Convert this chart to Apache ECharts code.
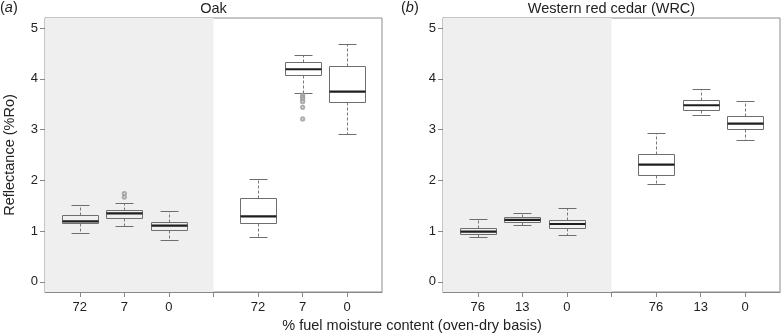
<!DOCTYPE html>
<html><head><meta charset="utf-8">
<script src="https://cdn.jsdelivr.net/npm/echarts@6/dist/echarts.min.js"></script>
<style>html,body{margin:0;padding:0;background:#fff}#c{width:782px;height:336px}</style>
</head><body><div id="c"></div>
<script>
// ---- data ----
const slots = [1, 2, 3, 5, 6, 7];
const oakTickLabels = ['72', '7', '0', '', '72', '7', '0'];
const wrcTickLabels = ['76', '13', '0', '', '76', '13', '0'];
const yTicks = [0, 1, 2, 3, 4, 5];

const oakMin    = [0.96, 1.10, 0.83, 0.89, 3.73, 2.91];
const oakQ1     = [1.16, 1.26, 1.03, 1.16, 4.08, 3.55];
const oakMedian = [1.19, 1.35, 1.11, 1.29, 4.19, 3.75];
const oakQ3     = [1.32, 1.42, 1.18, 1.66, 4.33, 4.25];
const oakMax    = [1.52, 1.55, 1.39, 2.03, 4.48, 4.68];
const oakOutliers = [[2, 1.74], [2, 1.67], [6, 3.68], [6, 3.64], [6, 3.60], [6, 3.55], [6, 3.44], [6, 3.21]];

const wrcMin    = [0.88, 1.12, 0.93, 1.93, 3.29, 2.79];
const wrcQ1     = [0.94, 1.18, 1.06, 2.10, 3.39, 3.01];
const wrcMedian = [0.99, 1.22, 1.14, 2.31, 3.48, 3.12];
const wrcQ3     = [1.06, 1.28, 1.21, 2.52, 3.59, 3.27];
const wrcMax    = [1.24, 1.35, 1.45, 2.93, 3.80, 3.56];

const shadeEnd = 4;

// ---- build ----
const boxData = (mn, q1, md, q3, mx) => slots.map((s, i) => [s, mn[i], q1[i], md[i], q3[i], mx[i]]);
const crisp = v => Math.round(v) + 0.5;
const GRAY = '#6e6e6e';

function renderBox(params, api) {
  const x = api.value(0);
  const cx = crisp(api.coord([x, 0])[0]);
  const yv = k => crisp(api.coord([x, api.value(k)])[1]);
  const yMin = yv(1), yQ1 = yv(2), yMed = api.coord([x, api.value(3)])[1], yQ3 = yv(4), yMax = yv(5);
  const hw = Math.round(api.size([0.82, 0])[0] / 2);
  const cap = Math.round(hw / 2);
  const dash = { stroke: '#777', lineWidth: 1, lineDash: [3, 2] };
  const solid = { stroke: GRAY, lineWidth: 1 };
  return {
    type: 'group',
    children: [
      { type: 'line', shape: { x1: cx, y1: yQ3, x2: cx, y2: yMax }, style: dash },
      { type: 'line', shape: { x1: cx, y1: yQ1, x2: cx, y2: yMin }, style: dash },
      { type: 'line', shape: { x1: cx - cap, y1: yMax, x2: cx + cap, y2: yMax }, style: solid },
      { type: 'line', shape: { x1: cx - cap, y1: yMin, x2: cx + cap, y2: yMin }, style: solid },
      { type: 'rect', shape: { x: cx - hw, y: yQ3, width: 2 * hw, height: yQ1 - yQ3 }, style: { fill: 'none', stroke: GRAY, lineWidth: 1 } },
      { type: 'line', shape: { x1: cx - hw, y1: yMed, x2: cx + hw, y2: yMed }, style: { stroke: '#1e1e1e', lineWidth: 2.2 } }
    ]
  };
}

function renderShade(params, api) {
  const cs = params.coordSys;
  const xe = api.coord([api.value(0), 0])[0];
  return { type: 'rect', shape: { x: cs.x, y: cs.y, width: xe - cs.x, height: cs.height }, style: { fill: '#efefef' } };
}

const fontFam = 'Liberation Sans, Arial, Helvetica, sans-serif';

function xAxisFor(gi, labels) {
  return {
    type: 'value', gridIndex: gi, min: 0.22, max: 7.78,
    axisLine: { show: true, onZero: false, lineStyle: { color: '#888' } },
    axisTick: { show: true, length: 5, lineStyle: { color: '#888' }, customValues: [1, 2, 3, 4, 5, 6, 7] },
    axisLabel: { show: true, margin: 9, color: '#222', fontSize: 13, fontFamily: fontFam,
      customValues: [1, 2, 3, 5, 6, 7], formatter: v => labels[Math.round(v) - 1] },
    splitLine: { show: false }
  };
}
function yAxisFor(gi) {
  return {
    type: 'value', gridIndex: gi, min: -0.2, max: 5.2,
    axisLine: { show: true, onZero: false, lineStyle: { color: '#888' } },
    axisTick: { show: true, length: 5, lineStyle: { color: '#888' }, customValues: yTicks },
    axisLabel: { show: true, margin: 7, color: '#222', fontSize: 13, fontFamily: fontFam, customValues: yTicks },
    splitLine: { show: false }
  };
}

const option = {
  animation: false,
  grid: [
    { left: 45, right: 400, top: 18, bottom: 44, show: true, borderColor: '#8c8c8c', borderWidth: 1, backgroundColor: 'transparent' },
    { left: 443, right: 2, top: 18, bottom: 44, show: true, borderColor: '#8c8c8c', borderWidth: 1, backgroundColor: 'transparent' }
  ],
  xAxis: [xAxisFor(0, oakTickLabels), xAxisFor(1, wrcTickLabels)],
  yAxis: [yAxisFor(0), yAxisFor(1)],
  graphic: [
    { type: 'text', left: 0, top: 0, style: { text: '({a|a})', fontSize: 14.5, fontFamily: fontFam, fill: '#222', rich: { a: { fontStyle: 'italic', fontSize: 14.5, fontFamily: fontFam } } } },
    { type: 'text', left: 401, top: 0, style: { text: '({b|b})', fontSize: 14.5, fontFamily: fontFam, fill: '#222', rich: { b: { fontStyle: 'italic', fontSize: 14.5, fontFamily: fontFam } } } },
    { type: 'text', x: 213.5, y: 1, style: { text: 'Oak', fontSize: 14.5, fontFamily: fontFam, fill: '#222', align: 'center', verticalAlign: 'top' } },
    { type: 'text', x: 611.5, y: 1, style: { text: 'Western red cedar (WRC)', fontSize: 14.5, fontFamily: fontFam, fill: '#222', align: 'center', verticalAlign: 'top' } },
    { type: 'text', x: 412, y: 318, style: { text: '% fuel moisture content (oven-dry basis)', fontSize: 14.5, fontFamily: fontFam, fill: '#222', align: 'center', verticalAlign: 'top' } },
    { type: 'text', x: 10, y: 155, rotation: Math.PI / 2, style: { text: 'Reflectance (%Ro)', fontSize: 14.5, fontFamily: fontFam, fill: '#222', align: 'center', verticalAlign: 'middle' } }
  ],
  series: [
    { type: 'custom', xAxisIndex: 0, yAxisIndex: 0, z: 1, silent: true, renderItem: renderShade, data: [[shadeEnd]], encode: { x: 0 } },
    { type: 'custom', xAxisIndex: 1, yAxisIndex: 1, z: 1, silent: true, renderItem: renderShade, data: [[shadeEnd]], encode: { x: 0 } },
    { type: 'custom', xAxisIndex: 0, yAxisIndex: 0, z: 3, renderItem: renderBox, encode: { x: 0, y: [1, 2, 3, 4, 5] },
      data: boxData(oakMin, oakQ1, oakMedian, oakQ3, oakMax) },
    { type: 'custom', xAxisIndex: 1, yAxisIndex: 1, z: 3, renderItem: renderBox, encode: { x: 0, y: [1, 2, 3, 4, 5] },
      data: boxData(wrcMin, wrcQ1, wrcMedian, wrcQ3, wrcMax) },
    { type: 'scatter', xAxisIndex: 0, yAxisIndex: 0, z: 4, symbol: 'emptyCircle', symbolSize: 3.2,
      itemStyle: { color: '#999', borderColor: '#999', borderWidth: 0.6 }, data: oakOutliers }
  ]
};
const chart = echarts.init(document.getElementById('c'), null, { renderer: 'canvas' });
chart.setOption(option);
</script></body></html>
